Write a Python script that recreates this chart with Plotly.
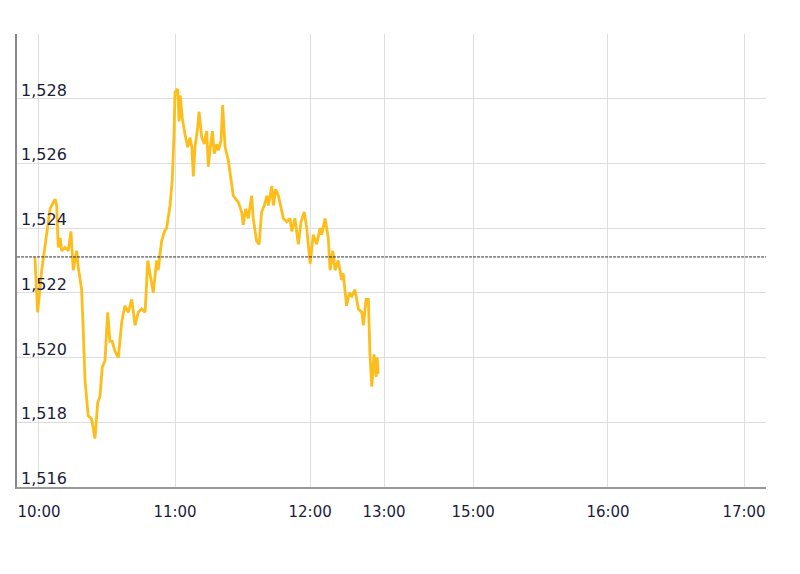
import plotly.graph_objects as go

# session-minute index (compressed intraday axis) and price
idx = [-1.8, -0.6, 1.2, 2.6, 4.9, 7.1, 7.8, 8.5, 9.3, 10.0, 11.5, 12.9, 14.1, 15.1, 16.6, 17.3,
       18.8, 19.5, 20.3, 21.7, 23.2, 24.7, 25.9, 26.9, 27.9, 29.1, 30.3, 31.3, 32.3, 33.5, 35.0,
       36.5, 37.9, 39.4, 40.9, 42.4, 43.8, 45.3, 46.8, 48.0, 49.0, 50.4, 51.9, 52.6, 53.4, 54.1,
       55.3, 56.3, 57.8, 58.8, 59.6, 60.0, 61.2, 61.8, 62.3, 63.2, 64.4, 65.6, 66.6, 67.4, 68.1,
       68.8, 70.0, 70.6, 71.8, 72.9, 74.0, 74.7, 75.4, 76.5, 77.3, 78.4, 79.1, 80.3, 81.0, 82.1,
       83.5, 85.0, 85.7, 87.9, 89.4, 90.1, 91.2, 92.3, 93.8, 94.5, 96.0, 97.1, 98.2, 99.4, 100.5,
       101.2, 102.7, 103.4, 104.4, 105.6, 106.8, 107.8, 109.3, 110.7, 111.5, 112.9, 114.4, 115.6,
       117.0, 118.1, 119.6, 121.0, 122.5, 124.0, 124.7, 126.2, 127.6, 128.4, 129.6, 130.6, 132.0,
       133.5, 134.2, 135.7, 136.9, 138.0, 139.4, 140.9, 142.4, 143.1, 144.3, 145.3, 146.0, 146.8,
       147.8, 148.7, 149.2, 149.6]
price = [1.5231, 1.5214, 1.5227, 1.5234, 1.5246, 1.5249, 1.5247, 1.5234, 1.5237, 1.5233, 1.5234,
         1.5233, 1.5239, 1.5227, 1.5233, 1.5228, 1.5221, 1.5209, 1.5193, 1.5182, 1.5181, 1.5175,
         1.5186, 1.5188, 1.5197, 1.5199, 1.5214, 1.5205, 1.5205, 1.5202, 1.5200, 1.5211, 1.5216,
         1.5214, 1.5218, 1.5210, 1.5214, 1.5215, 1.5214, 1.5230, 1.5226, 1.5220, 1.5230, 1.5227,
         1.5232, 1.5236, 1.5239, 1.5240, 1.5247, 1.5255, 1.5270, 1.5282, 1.5283, 1.5273, 1.5281,
         1.5274, 1.5269, 1.5265, 1.5268, 1.5265, 1.5256, 1.5265, 1.5271, 1.5276, 1.5268, 1.5266,
         1.5270, 1.5259, 1.5264, 1.5270, 1.5263, 1.5266, 1.5264, 1.5267, 1.5278, 1.5265, 1.5261,
         1.5253, 1.5250, 1.5248, 1.5245, 1.5241, 1.5246, 1.5243, 1.5250, 1.5243, 1.5236, 1.5235,
         1.5245, 1.5247, 1.5250, 1.5247, 1.5253, 1.5247, 1.5252, 1.5250, 1.5246, 1.5243, 1.5242,
         1.5243, 1.5239, 1.5243, 1.5235, 1.5242, 1.5245, 1.5240, 1.5229, 1.5238, 1.5235, 1.5240,
         1.5238, 1.5243, 1.5237, 1.5227, 1.5233, 1.5227, 1.5230, 1.5224, 1.5226, 1.5216, 1.5220,
         1.5219, 1.5221, 1.5215, 1.5214, 1.5210, 1.5218, 1.5218, 1.5201, 1.5191, 1.5201, 1.5194,
         1.5200, 1.5195]

prev_close = 1.52311

x_tick_vals = [0, 60, 119.6, 152.2, 191.5, 251, 311]
x_tick_text = ["10:00", "11:00", "12:00", "13:00", "15:00", "16:00", "17:00"]
y_tick_vals = [1.516, 1.518, 1.520, 1.522, 1.524, 1.526, 1.528, 1.530]
y_label_vals = [1.516, 1.518, 1.520, 1.522, 1.524, 1.526, 1.528]
y_label_text = ["1,516", "1,518", "1,520", "1,522", "1,524", "1,526", "1,528"]

fig = go.Figure()
fig.add_trace(go.Scatter(x=idx, y=price, mode="lines",
                         line=dict(color="#FDBE1C", width=2.8), hoverinfo="skip"))

fig.add_shape(type="line", xref="paper", yref="y", x0=0, x1=1, y0=prev_close, y1=prev_close,
              line=dict(color="#333333", width=1, dash="3px,1px"))

for v, t in zip(y_label_vals, y_label_text):
    fig.add_annotation(x=0, xref="paper", y=v, yref="y", text=t, showarrow=False,
                       xanchor="left", yanchor="bottom", xshift=2, yshift=-3,
                       font=dict(family="DejaVu Sans", size=16, color="#1c1c3c"))

fig.update_layout(
    width=800, height=574,
    margin=dict(l=9, r=42, t=26, b=95),
    paper_bgcolor="white", plot_bgcolor="white",
    showlegend=False,
    font=dict(family="DejaVu Sans", color="#1c1c3c"),
)
fig.update_xaxes(range=[-9.7, 320.7], tickvals=x_tick_vals, ticktext=x_tick_text,
                 showgrid=True, gridcolor="#dedede", gridwidth=1,
                 showline=True, linecolor="#999999", linewidth=1.5,
                 ticks="", tickfont=dict(size=15, color="#1c1c3c"),
                 ticklabelstandoff=10, zeroline=False, automargin=False)
fig.update_yaxes(range=[1.516, 1.530], tickvals=y_tick_vals,
                 showgrid=True, gridcolor="#dedede", gridwidth=1,
                 showline=True, linecolor="#888888", linewidth=1.5,
                 ticks="", showticklabels=False, zeroline=False, automargin=False)

fig.write_html("out.html")
